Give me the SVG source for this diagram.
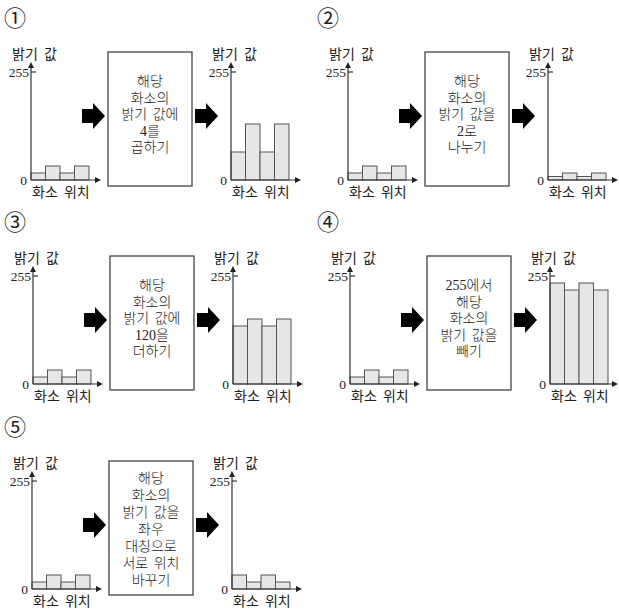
<svg xmlns="http://www.w3.org/2000/svg" xmlns:xlink="http://www.w3.org/1999/xlink" width="619" height="612" viewBox="0 0 619 612">
<style>
.ax{stroke:#333;stroke-width:1.2;fill:none}
.bar{fill:#e6e6e6;stroke:#555;stroke-width:1}
.box{fill:#fff;stroke:#444;stroke-width:1.3}
.lbl{font-family:"Noto Sans CJK KR",sans-serif;font-size:14px;fill:#222;word-spacing:3px}
.num{font-family:"Liberation Serif",serif;font-size:13.5px;fill:#222;text-anchor:end}
.bt{font-family:"Liberation Serif","Noto Sans CJK KR",serif;font-size:14px;font-weight:300;fill:#222;text-anchor:middle;word-spacing:2px}
.circ{font-family:"Noto Sans CJK KR",sans-serif;font-size:22px;fill:#222}
.blk{fill:#000}
</style>
<defs>
<marker id="ah" markerWidth="6" markerHeight="6" refX="1" refY="3" orient="auto" markerUnits="userSpaceOnUse"><path d="M0,0 L6,3 L0,6 Z" fill="#222"/></marker>
<path id="barrow" d="M0,-7 H11 V-13 L23,0 L11,13 V7 H0 Z"/>
</defs>
<rect width="619" height="612" fill="#fff"/>

<!-- circled numbers -->
<g id="labels">
<text class="circ" x="4" y="26">①</text>
<text class="circ" x="317" y="26">②</text>
<text class="circ" x="4" y="230">③</text>
<text class="circ" x="317" y="230">④</text>
<text class="circ" x="4" y="435">⑤</text>
</g>

<!-- Panel 1 -->
<g id="panel1">
<g id="p1-before" transform="translate(31,180)">
<rect class="bar" x="0" y="-7" width="14.5" height="7"/><rect class="bar" x="14.5" y="-14" width="14.5" height="14"/><rect class="bar" x="29" y="-7" width="14.5" height="7"/><rect class="bar" x="43.5" y="-14" width="14.5" height="14"/>
<line class="ax" x1="0" y1="0" x2="0" y2="-113" marker-end="url(#ah)"/><line class="ax" x1="0" y1="0" x2="65" y2="0" marker-end="url(#ah)"/><line class="ax" x1="0" y1="-108" x2="5" y2="-108"/>
<text class="lbl" x="-19" y="-121">밝기 값</text><text class="num" x="-2" y="-103">255</text><text class="num" x="-4" y="5">0</text><text class="lbl" x="1" y="17">화소 위치</text>
</g>
<g id="p1-op"><rect class="box" x="108" y="52" width="84" height="134"/>
<text class="bt" x="150" y="86">해당</text><text class="bt" x="150" y="102.5">화소의</text><text class="bt" x="150" y="119">밝기 값에</text><text class="bt" x="150" y="135.5">4를</text><text class="bt" x="150" y="152">곱하기</text></g>
<g id="p1-after" transform="translate(231,180)">
<rect class="bar" x="0" y="-28" width="14.5" height="28"/><rect class="bar" x="14.5" y="-56" width="14.5" height="56"/><rect class="bar" x="29" y="-28" width="14.5" height="28"/><rect class="bar" x="43.5" y="-56" width="14.5" height="56"/>
<line class="ax" x1="0" y1="0" x2="0" y2="-113" marker-end="url(#ah)"/><line class="ax" x1="0" y1="0" x2="65" y2="0" marker-end="url(#ah)"/><line class="ax" x1="0" y1="-108" x2="5" y2="-108"/>
<text class="lbl" x="-19" y="-121">밝기 값</text><text class="num" x="-2" y="-103">255</text><text class="num" x="-4" y="5">0</text><text class="lbl" x="1" y="17">화소 위치</text>
</g>
</g>

<!-- Panel 2 -->
<g id="panel2" transform="translate(317,0)">
<g id="p2-before" transform="translate(31,180)">
<rect class="bar" x="0" y="-7" width="14.5" height="7"/><rect class="bar" x="14.5" y="-14" width="14.5" height="14"/><rect class="bar" x="29" y="-7" width="14.5" height="7"/><rect class="bar" x="43.5" y="-14" width="14.5" height="14"/>
<line class="ax" x1="0" y1="0" x2="0" y2="-113" marker-end="url(#ah)"/><line class="ax" x1="0" y1="0" x2="65" y2="0" marker-end="url(#ah)"/><line class="ax" x1="0" y1="-108" x2="5" y2="-108"/>
<text class="lbl" x="-19" y="-121">밝기 값</text><text class="num" x="-2" y="-103">255</text><text class="num" x="-4" y="5">0</text><text class="lbl" x="1" y="17">화소 위치</text>
</g>
<g id="p2-op"><rect class="box" x="108" y="52" width="84" height="134"/>
<text class="bt" x="150" y="86">해당</text><text class="bt" x="150" y="102.5">화소의</text><text class="bt" x="150" y="119">밝기 값을</text><text class="bt" x="150" y="135.5">2로</text><text class="bt" x="150" y="152">나누기</text></g>
<g id="p2-after" transform="translate(231,180)">
<rect class="bar" x="0" y="-3.5" width="14.5" height="3.5"/><rect class="bar" x="14.5" y="-7" width="14.5" height="7"/><rect class="bar" x="29" y="-3.5" width="14.5" height="3.5"/><rect class="bar" x="43.5" y="-7" width="14.5" height="7"/>
<line class="ax" x1="0" y1="0" x2="0" y2="-113" marker-end="url(#ah)"/><line class="ax" x1="0" y1="0" x2="65" y2="0" marker-end="url(#ah)"/><line class="ax" x1="0" y1="-108" x2="5" y2="-108"/>
<text class="lbl" x="-19" y="-121">밝기 값</text><text class="num" x="-2" y="-103">255</text><text class="num" x="-4" y="5">0</text><text class="lbl" x="1" y="17">화소 위치</text>
</g>
</g>

<!-- Panel 3 -->
<g id="panel3" transform="translate(2,204)">
<g id="p3-before" transform="translate(31,180)">
<rect class="bar" x="0" y="-7" width="14.5" height="7"/><rect class="bar" x="14.5" y="-14" width="14.5" height="14"/><rect class="bar" x="29" y="-7" width="14.5" height="7"/><rect class="bar" x="43.5" y="-14" width="14.5" height="14"/>
<line class="ax" x1="0" y1="0" x2="0" y2="-113" marker-end="url(#ah)"/><line class="ax" x1="0" y1="0" x2="65" y2="0" marker-end="url(#ah)"/><line class="ax" x1="0" y1="-108" x2="5" y2="-108"/>
<text class="lbl" x="-19" y="-121">밝기 값</text><text class="num" x="-2" y="-103">255</text><text class="num" x="-4" y="5">0</text><text class="lbl" x="1" y="17">화소 위치</text>
</g>
<g id="p3-op"><rect class="box" x="108" y="52" width="84" height="134"/>
<text class="bt" x="150" y="86">해당</text><text class="bt" x="150" y="102.5">화소의</text><text class="bt" x="150" y="119">밝기 값에</text><text class="bt" x="150" y="135.5">120을</text><text class="bt" x="150" y="152">더하기</text></g>
<g id="p3-after" transform="translate(231,180)">
<rect class="bar" x="0" y="-58" width="14.5" height="58"/><rect class="bar" x="14.5" y="-65" width="14.5" height="65"/><rect class="bar" x="29" y="-58" width="14.5" height="58"/><rect class="bar" x="43.5" y="-65" width="14.5" height="65"/>
<line class="ax" x1="0" y1="0" x2="0" y2="-113" marker-end="url(#ah)"/><line class="ax" x1="0" y1="0" x2="65" y2="0" marker-end="url(#ah)"/><line class="ax" x1="0" y1="-108" x2="5" y2="-108"/>
<text class="lbl" x="-19" y="-121">밝기 값</text><text class="num" x="-2" y="-103">255</text><text class="num" x="-4" y="5">0</text><text class="lbl" x="1" y="17">화소 위치</text>
</g>
</g>

<!-- Panel 4 -->
<g id="panel4" transform="translate(319,204)">
<g id="p4-before" transform="translate(31,180)">
<rect class="bar" x="0" y="-7" width="14.5" height="7"/><rect class="bar" x="14.5" y="-14" width="14.5" height="14"/><rect class="bar" x="29" y="-7" width="14.5" height="7"/><rect class="bar" x="43.5" y="-14" width="14.5" height="14"/>
<line class="ax" x1="0" y1="0" x2="0" y2="-113" marker-end="url(#ah)"/><line class="ax" x1="0" y1="0" x2="65" y2="0" marker-end="url(#ah)"/><line class="ax" x1="0" y1="-108" x2="5" y2="-108"/>
<text class="lbl" x="-19" y="-121">밝기 값</text><text class="num" x="-2" y="-103">255</text><text class="num" x="-4" y="5">0</text><text class="lbl" x="1" y="17">화소 위치</text>
</g>
<g id="p4-op"><rect class="box" x="108" y="52" width="84" height="134"/>
<text class="bt" x="150" y="86">255에서</text><text class="bt" x="150" y="102.5">해당</text><text class="bt" x="150" y="119">화소의</text><text class="bt" x="150" y="135.5">밝기 값을</text><text class="bt" x="150" y="152">빼기</text></g>
<g id="p4-after" transform="translate(231,180)">
<rect class="bar" x="0" y="-101" width="14.5" height="101"/><rect class="bar" x="14.5" y="-94" width="14.5" height="94"/><rect class="bar" x="29" y="-101" width="14.5" height="101"/><rect class="bar" x="43.5" y="-94" width="14.5" height="94"/>
<line class="ax" x1="0" y1="0" x2="0" y2="-113" marker-end="url(#ah)"/><line class="ax" x1="0" y1="0" x2="63" y2="0" marker-end="url(#ah)"/><line class="ax" x1="0" y1="-108" x2="5" y2="-108"/>
<text class="lbl" x="-19" y="-121">밝기 값</text><text class="num" x="-2" y="-103">255</text><text class="num" x="-4" y="5">0</text><text class="lbl" x="1" y="17">화소 위치</text>
</g>
</g>

<!-- Panel 5 -->
<g id="panel5" transform="translate(1,409)">
<g id="p5-before" transform="translate(31,180)">
<rect class="bar" x="0" y="-7" width="14.5" height="7"/><rect class="bar" x="14.5" y="-14" width="14.5" height="14"/><rect class="bar" x="29" y="-7" width="14.5" height="7"/><rect class="bar" x="43.5" y="-14" width="14.5" height="14"/>
<line class="ax" x1="0" y1="0" x2="0" y2="-113" marker-end="url(#ah)"/><line class="ax" x1="0" y1="0" x2="65" y2="0" marker-end="url(#ah)"/><line class="ax" x1="0" y1="-108" x2="5" y2="-108"/>
<text class="lbl" x="-19" y="-121">밝기 값</text><text class="num" x="-2" y="-103">255</text><text class="num" x="-4" y="5">0</text><text class="lbl" x="1" y="17">화소 위치</text>
</g>
<g id="p5-op"><rect class="box" x="108" y="52" width="84" height="134"/>
<text class="bt" x="150" y="74">해당</text><text class="bt" x="150" y="91">화소의</text><text class="bt" x="150" y="108">밝기 값을</text><text class="bt" x="150" y="125">좌우</text><text class="bt" x="150" y="142">대칭으로</text><text class="bt" x="150" y="159">서로 위치</text><text class="bt" x="150" y="176">바꾸기</text></g>
<g id="p5-after" transform="translate(231,180)">
<rect class="bar" x="0" y="-14" width="14.5" height="14"/><rect class="bar" x="14.5" y="-7" width="14.5" height="7"/><rect class="bar" x="29" y="-14" width="14.5" height="14"/><rect class="bar" x="43.5" y="-7" width="14.5" height="7"/>
<line class="ax" x1="0" y1="0" x2="0" y2="-113" marker-end="url(#ah)"/><line class="ax" x1="0" y1="0" x2="65" y2="0" marker-end="url(#ah)"/><line class="ax" x1="0" y1="-108" x2="5" y2="-108"/>
<text class="lbl" x="-19" y="-121">밝기 값</text><text class="num" x="-2" y="-103">255</text><text class="num" x="-4" y="5">0</text><text class="lbl" x="1" y="17">화소 위치</text>
</g>
</g>

<!-- connectors: block arrows -->
<g id="connectors" class="blk">
<use href="#barrow" xlink:href="#barrow" transform="translate(82,116)"/>
<use href="#barrow" xlink:href="#barrow" transform="translate(195,116)"/>
<use href="#barrow" xlink:href="#barrow" transform="translate(399,116)"/>
<use href="#barrow" xlink:href="#barrow" transform="translate(512,116)"/>
<use href="#barrow" xlink:href="#barrow" transform="translate(84,320)"/>
<use href="#barrow" xlink:href="#barrow" transform="translate(197,320)"/>
<use href="#barrow" xlink:href="#barrow" transform="translate(401,320)"/>
<use href="#barrow" xlink:href="#barrow" transform="translate(514,320)"/>
<use href="#barrow" xlink:href="#barrow" transform="translate(83,525)"/>
<use href="#barrow" xlink:href="#barrow" transform="translate(196,525)"/>
</g>
</svg>
